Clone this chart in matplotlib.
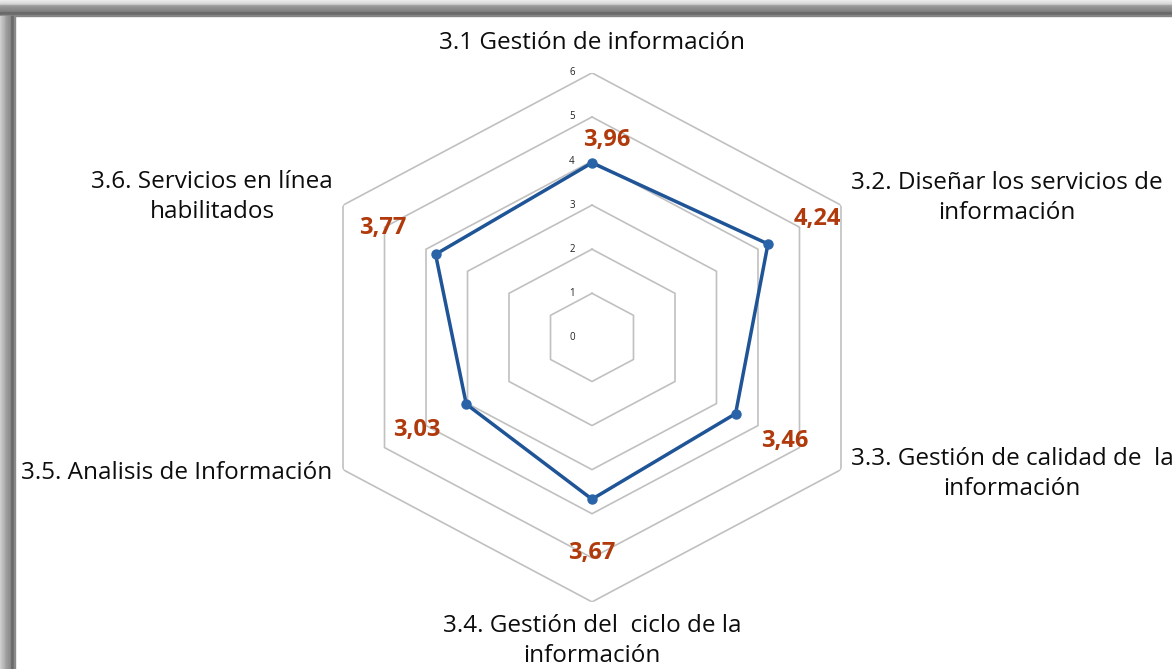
import numpy as np
import matplotlib.pyplot as plt
from matplotlib.patches import Rectangle

# datos del gráfico radial
categorias = ["3.1 Gestión de información",
              "3.2. Diseñar los servicios de\ninformación",
              "3.3. Gestión de calidad de  la\ninformación",
              "3.4. Gestión del  ciclo de la\ninformación",
              "3.5. Analisis de Información",
              "3.6. Servicios en línea\nhabilitados"]
valores = [3.96, 4.24, 3.46, 3.67, 3.03, 3.77]
etiquetas = ["3,96", "4,24", "3,46", "3,67", "3,03", "3,77"]
niveles = [0, 1, 2, 3, 4, 5, 6]

plt.rcParams['font.family'] = ['Open Sans', 'DejaVu Sans']

W, H = 1172, 669
fig = plt.figure(figsize=(W / 100, H / 100), dpi=100)
fig.patch.set_facecolor('white')

# marco gris (arriba e izquierda): claro por fuera, oscuro junto al blanco
gris_sup = ['#ececec', '#e6e6e6', '#e0e0e0', '#d8d8d8', '#cfcfcf', '#a4a4a4', '#9a9a9a',
            '#939393', '#8e8e8e', '#8a8a8a', '#868686', '#828282', '#6c6c6c', '#6a6a6a',
            '#6c6c6c', '#858585']
gris_izq = ['#d0d0d0', '#c8c8c8', '#c0c0c0', '#bababa', '#b4b4b4', '#a6a6a6', '#a0a0a0',
            '#9a9a9a', '#949494', '#909090', '#8c8c8c', '#6e6e6e', '#6a6a6a', '#6c6c6c',
            '#8a8a8a']
for i, g in enumerate(gris_sup):
    fig.patches.append(Rectangle((0, (H - (i + 1)) / H), 1, 1 / H,
                                 transform=fig.transFigure, color=g, zorder=0))
for i, g in enumerate(gris_izq):
    fig.patches.append(Rectangle((i / W, 0), 1 / W, (H - len(gris_sup)) / H,
                                 transform=fig.transFigure, color=g, zorder=0))

# centro y radios (en píxeles) de la rejilla
cx, cy, Rx, Ry = 592, 337.4, 287.5, 264.5
ax = fig.add_axes([(cx - Rx) / W, (H - cy - Ry) / H, 2 * Rx / W, 2 * Ry / H], projection='polar')
ax.set_aspect('auto')
ax.set_theta_offset(np.pi / 2)
ax.set_theta_direction(-1)
ax.set_ylim(0, 6)
ax.grid(False)
ax.spines['polar'].set_visible(False)
ax.set_xticks([])
ax.set_yticks([])
ax.patch.set_alpha(0)

n = len(categorias)
ang = np.linspace(0, 2 * np.pi, n, endpoint=False)
ang_c = np.append(ang, ang[0])

# rejilla hexagonal
for nv in niveles[1:]:
    ax.plot(ang_c, [nv] * (n + 1), color='#c0c0c0', lw=1.2, zorder=1)
for nv in niveles:
    ax.annotate(str(nv), (0, nv), xytext=(-14.5, 0), textcoords='offset points',
                fontsize=7, ha='center', va='center', color='#222222')

vals_c = valores + [valores[0]]
ax.plot(ang_c, vals_c, color='#1f5597', lw=2.5, zorder=3)
ax.plot(ang, valores, 'o', color='#2a64a8', ms=6.5, zorder=4)

desp = [(10.8, 16.6), (35.3, 18), (35.3, -19.4), (0, -38.9), (-36, -18.7), (-38.2, 18.7)]
for a, v, t, d in zip(ang, valores, etiquetas, desp):
    ax.annotate(t, (a, v), xytext=d, textcoords='offset points', ha='center', va='center',
                fontsize=17, fontweight='bold', color='#b03a0b', zorder=5)

# etiquetas de categorías
pos = [(592, 43), (1007, 198), (1012, 474), (592, 641), (177, 473), (212, 197)]
for t, (px, py) in zip(categorias, pos):
    fig.text(px / W, 1 - py / H, t, ha='center', va='center', fontsize=17.5,
             color='#0d0d0d', linespacing=1.34)

fig.savefig('out.png', dpi=100)
